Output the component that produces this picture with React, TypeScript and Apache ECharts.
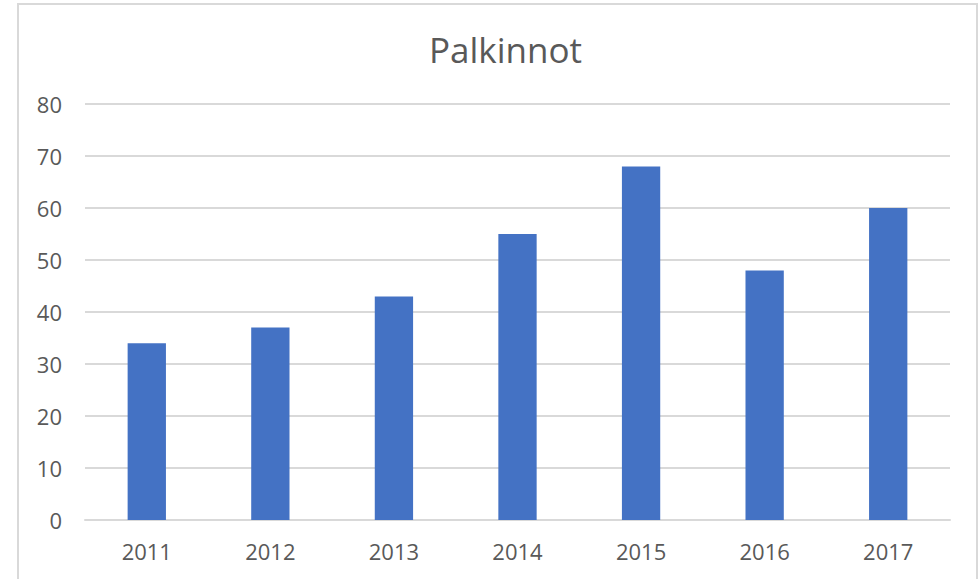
import React, { useEffect, useRef } from "react";
import * as echarts from "echarts";

const years = ["2011", "2012", "2013", "2014", "2015", "2016", "2017"];
const values = [34, 37, 43, 55, 68, 48, 60];
const title = "Palkinnot";

export default function App() {
  const ref = useRef<HTMLDivElement>(null);
  useEffect(() => {
    const chart = echarts.init(ref.current!, null, { renderer: "svg" });
    chart.setOption({
      animation: false,
      backgroundColor: "#ffffff",
      textStyle: { fontFamily: "'Open Sans', sans-serif" },
      title: {
        text: title,
        left: 424,
        top: 27,
        textStyle: { fontSize: 35, fontWeight: "normal", color: "#595959", fontFamily: "'Open Sans', sans-serif" },
      },
      graphic: [
        {
          type: "rect",
          shape: { x: 18, y: 4, width: 959, height: 590 },
          style: { fill: "none", stroke: "#d9d9d9", lineWidth: 2 },
          silent: true,
        },
      ],
      grid: { left: 85, right: 29, top: 104, bottom: 59, containLabel: false },
      xAxis: {
        type: "category",
        data: years,
        axisLine: { show: true, lineStyle: { color: "#d9d9d9", width: 2 } },
        axisTick: { show: false },
        axisLabel: { color: "#595959", fontSize: 22, margin: 20 },
      },
      yAxis: {
        type: "value",
        min: 0,
        max: 80,
        interval: 10,
        axisLine: { show: false },
        axisTick: { show: false },
        splitLine: { lineStyle: { color: "#d9d9d9", width: 2 } },
        axisLabel: { color: "#595959", fontSize: 22, margin: 23 },
      },
      series: [
        {
          type: "bar",
          data: values,
          barWidth: "31%",
          itemStyle: { color: "#4472c4" },
        },
      ],
    });
    return () => chart.dispose();
  }, []);
  return <div ref={ref} style={{ position: "fixed", left: 0, top: 0, width: 979, height: 579 }} />;
}
